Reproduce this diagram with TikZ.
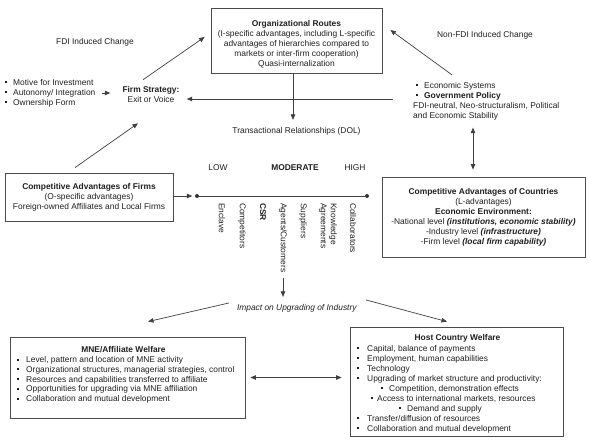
\documentclass[tikz,border=0pt]{standalone}
\usepackage{fontspec}
\setmainfont{Liberation Sans}
\usetikzlibrary{arrows.meta,calc}
\newcommand{\bl}[1][10pt]{\makebox[#1][l]{\rule[2pt]{2pt}{2pt}}}
\begin{document}
\begin{tikzpicture}[x=1pt,y=-1pt,
  every node/.style={font=\fontsize{8.4}{10}\selectfont, inner sep=0pt, text=black!88},
  box/.style={draw=black!70, line width=0.8pt},
  arr/.style={draw=black!75, line width=0.7pt, -{Triangle[length=5.5pt,width=4.5pt]}},
  darr/.style={draw=black!75, line width=0.7pt, {Triangle[length=5.5pt,width=4.5pt]}-{Triangle[length=5.5pt,width=4.5pt]}},
  dot/.style={circle, fill=black!80, minimum size=4pt, inner sep=0pt},
  vlab/.style={rotate=-90, anchor=west}
]
\useasboundingbox (0,0) rectangle (589,447);

% Organizational routes
\node[box, minimum width=171pt, minimum height=65pt] (org) at (296.5,40.5) {};
\node[align=center] (orgt) at (296.5,44) {\textbf{Organizational Routes}\\(I-specific advantages, including L-specific\\advantages of hierarchies compared to\\markets or inter-firm cooperation)\\Quasi-internalization};

\node (fdi) at (95,42) {FDI Induced Change};
\node (nfdi) at (485,35) {Non-FDI Induced Change};

% left list
\node[align=left, anchor=west] (lb) at (5,93) {\bl[8pt]Motive for Investment\\\bl[8pt]Autonomy/ Integration\\\bl[8pt]Ownership Form};

% firm strategy
\node[align=center] (fs) at (151,94) {\textbf{Firm Strategy:}\\Exit or Voice};

% right block
\node[align=left, anchor=west] (rb) at (413,101) {\hspace*{3pt}\bl[8pt]Economic Systems\\\hspace*{3pt}\bl[8pt]\textbf{Government Policy}\\FDI-neutral, Neo-structuralism, Political\\and Economic Stability};

\node (trans) at (296.5,131) {Transactional Relationships (DOL)};

% Competitive advantages of firms
\node[box, align=center, minimum width=168pt, minimum height=48pt] (caf) at (89,197) {\textbf{Competitive Advantages of Firms}\\(O-specific advantages)\\Foreign-owned Affiliates and Local Firms};

% Countries
\node[box, align=center, minimum width=203pt, minimum height=80pt] (cac) at (483.5,217) {\textbf{Competitive Advantages of Countries}\\(L-advantages)\\\textbf{Economic Environment:}\\-National level \textbf{\textit{(institutions, economic stability)}}\\-Industry level \textbf{\textit{(infrastructure)}}\\-Firm level \textbf{\textit{(local firm capability)}}};

% scale
\node (low) at (218,168) {LOW};
\node (mod) at (295,168) {\textbf{MODERATE}};
\node (high) at (355,168) {HIGH};
\node[dot] (d1) at (197,196) {};
\node[dot] (d2) at (367,196) {};
\draw[draw=black!75, line width=0.7pt] (d1) -- (d2);

\node[vlab] (enc) at (222,203) {Enclave};
\node[vlab] (comp) at (242,203) {Competitors};
\node[vlab] (csr) at (263,203) {\textbf{CSR}};
\node[vlab] (ag) at (283,203) {Agents/Customers};
\node[vlab] (sup) at (303,203) {Suppliers};
\node[vlab] (agr) at (323,203) {Agreements};
\node[vlab] (know) at (333,203) {Knowledge};
\node[vlab] (col) at (353,203) {Collaborators};

\node (imp) at (297,308) {\textit{Impact on Upgrading of Industry}};

% MNE box
\node[box, minimum width=235pt, minimum height=81pt] (mne) at (127.5,377.5) {};
\node (mnet) at (123.5,350) {\textbf{MNE/Affiliate Welfare}};
\node[align=left, anchor=west, font=\fontsize{8.4}{9.7}\selectfont] (mnel) at (17,380) {\bl[9pt]Level, pattern and location of MNE activity\\\bl[9pt]Organizational structures, managerial strategies, control\\\bl[9pt]Resources and capabilities transferred to affiliate\\\bl[9pt]Opportunities for upgrading via MNE affiliation\\\bl[9pt]Collaboration and mutual development};

% Host box
\node[box, minimum width=213pt, minimum height=109pt] (host) at (456.5,381.5) {};
\node (hostt) at (457.5,338) {\textbf{Host Country Welfare}};
\node[align=left, anchor=west] (hostl) at (357,389) {\bl Capital, balance of payments\\\bl Employment, human capabilities\\\bl Technology\\\bl Upgrading of market structure and productivity:\\\hspace*{24pt}\bl[8pt]Competition, demonstration effects\\\hspace*{14pt}\bl[6pt]Access to international markets, resources\\\hspace*{42pt}\bl[8pt]Demand and supply\\\bl Transfer/diffusion of resources\\\bl Collaboration and mutual development};

% connectors
\coordinate (hstart) at (393,99);
\draw[arr] ([xshift=-3.5pt]org.south) -- ([xshift=-3.5pt,yshift=7pt]trans.north);
\draw[arr, shorten >=7pt] (hstart) -- (hstart -| fs.east);
\draw[arr] ([xshift=-8pt,yshift=6pt]fs.north) -- ([xshift=-6pt,yshift=3.5pt]org.west);
\draw[arr] ([xshift=-14pt,yshift=5pt]caf.north) -- ([xshift=-13pt,yshift=-21pt]fs.south);
\draw[arr] ([xshift=39pt,yshift=7pt]rb.north west) -- ([xshift=8pt,yshift=10.5pt]org.east);
\draw[darr] ([xshift=-10.5pt,yshift=7pt]cac.north) -- ([xshift=-10.5pt,yshift=49pt]cac.north);
\draw[arr, shorten >=2.5pt] (caf.east |- d1) -- (d1);
\draw[arr, shorten <=6pt, shorten >=12pt] (lb.east) -- (lb.east -| fs.west);
\draw[arr, shorten <=6pt, shorten >=7pt] (ag.east) -- (ag.east |- imp.north);
\draw[arr] ([xshift=-8pt,yshift=5pt]imp.west) -- ([xshift=20.5pt,yshift=15pt]mne.north);
\draw[arr] ([xshift=9pt,yshift=8pt]imp.east) -- ([xshift=-9.5pt,yshift=5pt]host.north);
\draw[darr, shorten <=5pt, shorten >=8pt] (mne.east) -- (mne.east -| host.west);
\end{tikzpicture}
\end{document}
